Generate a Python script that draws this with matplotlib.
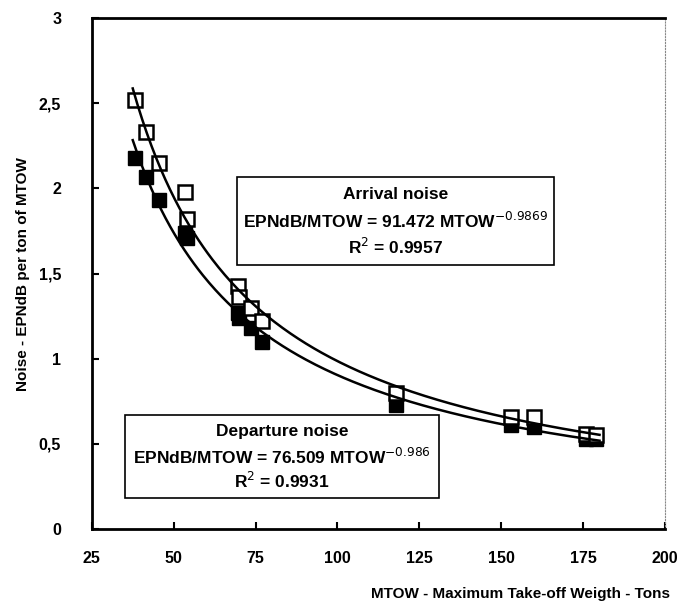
import matplotlib.pyplot as plt
from matplotlib.patches import Rectangle
import numpy as np

plt.rcParams['font.family'] = ['Liberation Sans', 'DejaVu Sans']

# MTOW (tons) and noise per ton
mtow = [38.1, 41.4, 45.4, 53.5, 54.2, 69.5, 69.8, 73.5, 77.0, 118.0, 153.0, 160.0, 176.0, 179.0]
arrival = [2.52, 2.33, 2.15, 1.98, 1.82, 1.43, 1.36, 1.30, 1.22, 0.80, 0.66, 0.66, 0.56, 0.55]
departure = [2.18, 2.07, 1.93, 1.74, 1.71, 1.27, 1.24, 1.18, 1.10, 0.73, 0.61, 0.60, 0.53, 0.53]

# text of the equation boxes
arr_lines = ['Arrival noise', 'EPNdB/MTOW = 91.472 MTOW$^{-0.9869}$', 'R$^2$ = 0.9957']
dep_lines = ['Departure noise', 'EPNdB/MTOW = 76.509 MTOW$^{-0.986}$', 'R$^2$ = 0.9931']

xticks = [25, 50, 75, 100, 125, 150, 175, 200]
yticks = [0, 0.5, 1, 1.5, 2, 2.5, 3]
ytick_labels = ['0', '0,5', '1', '1,5', '2', '2,5', '3']

fig = plt.figure(figsize=(6.8, 6.08), dpi=100)
ax = fig.add_axes([0.135, 0.130, 0.843, 0.840])

ax.plot(mtow, departure, 's', ms=10.5, mfc='black', mec='black', zorder=3)
ax.plot(mtow, arrival, 's', ms=10.5, mfc='white', mec='black', mew=1.8, zorder=4)

# power-law trend lines fitted to the points
xs = np.linspace(37.5, 180, 300)
for ys in (arrival, departure):
    b, loga = np.polyfit(np.log(mtow), np.log(ys), 1)
    ax.plot(xs, np.exp(loga) * xs ** b, color='black', lw=1.8, zorder=5)

ax.set_xlim(25, 200)
ax.set_ylim(0, 3)
ax.set_xticks(xticks)
ax.set_xticklabels([str(t) for t in xticks])
ax.set_yticks(yticks)
ax.set_yticklabels(ytick_labels)
ax.tick_params(direction='in', length=5, width=1.5, labelsize=11.5)
ax.tick_params(axis='x', pad=16)
ax.tick_params(axis='y', pad=22)
for lab in ax.get_xticklabels() + ax.get_yticklabels():
    lab.set_fontweight('bold')

for s in ['left', 'bottom', 'top']:
    ax.spines[s].set_linewidth(2)
ax.spines['right'].set_linewidth(0.8)
ax.spines['right'].set_linestyle(':')
ax.spines['right'].set_color('#888888')


def eq_box(x0, x1, y0, y1, lines):
    ax.add_patch(Rectangle((x0, y0), x1 - x0, y1 - y0, fc='white', ec='black',
                           lw=1.2, zorder=6))
    xc = (x0 + x1) / 2
    for frac, txt in zip([0.2, 0.5, 0.79], lines):
        ax.text(xc, y1 - frac * (y1 - y0), txt, ha='center', va='center',
                fontsize=12.5, fontweight='bold', zorder=7)


eq_box(69.3, 166.1, 1.55, 2.067, arr_lines)
eq_box(35.1, 131.0, 0.182, 0.669, dep_lines)

ax.set_ylabel('Noise - EPNdB per ton of MTOW', fontsize=11, fontweight='bold', labelpad=6)
fig.text(0.985, 0.012, 'MTOW - Maximum Take-off Weigth - Tons', ha='right', va='bottom',
         fontsize=11, fontweight='bold')

fig.savefig('out.png', dpi=100)
